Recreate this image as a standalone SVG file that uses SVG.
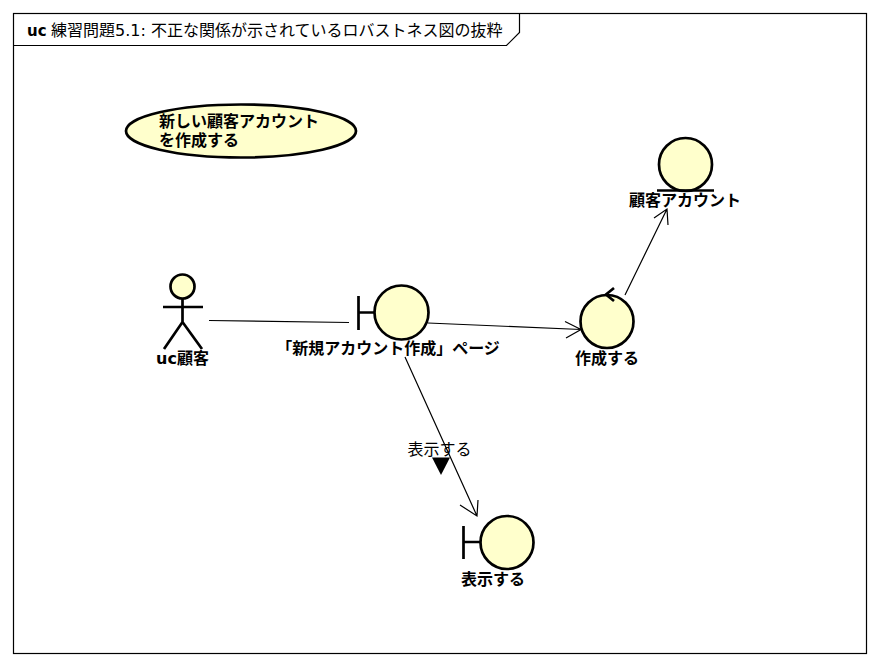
<svg xmlns="http://www.w3.org/2000/svg" width="880" height="666" viewBox="0 0 880 666">
<style>
text{font-family:"DejaVu Sans","Noto Sans CJK JP",sans-serif;fill:#000;font-size:16px}
.b{font-weight:700}
.s{fill:#ffffcc;stroke:#000;stroke-width:2.7}
.l{fill:none;stroke:#000;stroke-width:2.7;stroke-linecap:butt}
.c{fill:none;stroke:#000;stroke-width:1.2}
</style>
<rect width="880" height="666" fill="#fff"/>
<g id="frame">
<rect x="13.500" y="13.500" width="853" height="640" fill="none" stroke="#000" stroke-width="1.200"/>
<path d="M13.500 45.500H506.500L519.500 32.500V13.500" fill="none" stroke="#000" stroke-width="1.200"/>
<text x="27" y="36"><tspan class="b" style="font-size:15px">uc</tspan><tspan x="51">練習問題5.1: 不正な関係が示されているロバストネス図の抜粋</tspan></text>
</g>
<g id="connectors">
<path class="c" d="M209 320.500L349 322.500"/>
<path class="c" d="M428 323L581 329.500M565 321.500L581 329.500L566 338"/>
<path class="c" d="M625 295L667 209M654 218L667 209L668 225"/>
<path class="c" d="M405 357L477 516M460 505L477 516L478 500"/>
</g>
<g id="usecase">
<ellipse class="s" cx="241" cy="131" rx="115" ry="26.500"/>
<text class="b" x="159" y="126.500">新しい顧客アカウント</text>
<text class="b" x="159" y="145.500">を作成する</text>
</g>
<g id="actor">
<circle class="s" cx="182.500" cy="286.500" r="12"/>
<path class="l" d="M182.500 299V322M163 307H203M164 349L182.500 322L202 349"/>
<text class="b" x="182.500" y="364" text-anchor="middle">uc顧客</text>
</g>
<g id="boundary-new">
<path class="l" d="M358.500 296V330M358.500 312.500H375"/>
<circle class="s" cx="401.500" cy="312.500" r="27"/>
<text class="b" x="388" y="354" text-anchor="middle">「新規アカウント作成」ページ</text>
</g>
<g id="control-create">
<circle class="s" cx="607" cy="321.500" r="26.500"/>
<path class="l" d="M614 288L606 294.500L614 301"/>
<text class="b" x="607" y="363.500" text-anchor="middle">作成する</text>
</g>
<g id="entity-account">
<circle class="s" cx="685.500" cy="164.500" r="26.500"/>
<path class="l" d="M657 190.500H714"/>
<text class="b" x="685" y="206" text-anchor="middle">顧客アカウント</text>
</g>
<g id="boundary-show">
<path class="l" d="M463.500 526V559M463.500 542H481"/>
<circle class="s" cx="507" cy="542.500" r="26.500"/>
<text class="b" x="493" y="584.500" text-anchor="middle">表示する</text>
</g>
<g id="label-show">
<text x="439.500" y="454.500" text-anchor="middle">表示する</text>
<path d="M432 457.500H450L441 475Z" fill="#000"/>
</g>
</svg>
